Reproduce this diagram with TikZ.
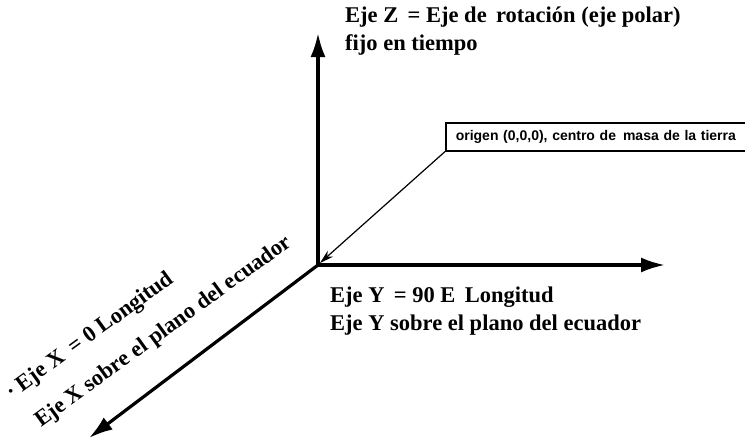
\documentclass[tikz,border=0pt]{standalone}
\usepackage{fontspec}
\setmainfont{Liberation Serif}
\newfontfamily\boxfont{Liberation Sans}
\usetikzlibrary{arrows.meta}

\tikzset{
  axis/.style={line width=3.2pt, -{Latex[length=24pt,width=15pt]}},
  leader/.style={line width=1.2pt, -{Stealth[length=14pt,width=8pt]}},
  lbl/.style={font=\fontsize{22.5}{27}\selectfont\bfseries, inner sep=0pt, anchor=base west},
  infobox/.style={draw, line width=1.6pt, anchor=north west, inner xsep=10pt,
    text width=300pt, minimum height=28pt, align=left,
    font=\boxfont\fontsize{14}{16}\selectfont\bfseries}
}

\begin{document}
\begin{tikzpicture}[x=1pt, y=-1pt]
  \useasboundingbox (0,0) rectangle (745,439);
  % origin and axis ends
  \coordinate (O) at (318,265);
  \coordinate (zt) at (318,33);
  \coordinate (yt) at (665,265);
  \coordinate (xt) at (89,438);
  % axes
  \draw[axis] (O) -- (zt);
  \draw[axis] (O) -- (yt);
  \draw[axis] (O) -- (xt);
  % Z labels
  \node[lbl] (zlab1) at (345,23) {Eje Z \,= Eje de \,rotación (eje polar)};
  \node[lbl] (zlab2) at (345,50) {fijo en tiempo};
  % Y labels
  \node[lbl] (ylab1) at (330,302) {Eje Y \,= 90 E \,Longitud};
  \node[lbl] (ylab2) at (330,330) {Eje Y sobre el plano del ecuador};
  % X labels
  \node[lbl, rotate=36] (xlab1) at (12,400) {· Eje X \,= 0 Longitud};
  \node[lbl, rotate=36] (xlab2) at (41,428) {Eje X sobre el plano del ecuador};
  % origin box
  \node[infobox] (orig) at (445,122) {origen (0,0,0), centro de \,masa de la tierra};
  \draw[leader] (orig.south west) -- (320,263);
\end{tikzpicture}
\end{document}
